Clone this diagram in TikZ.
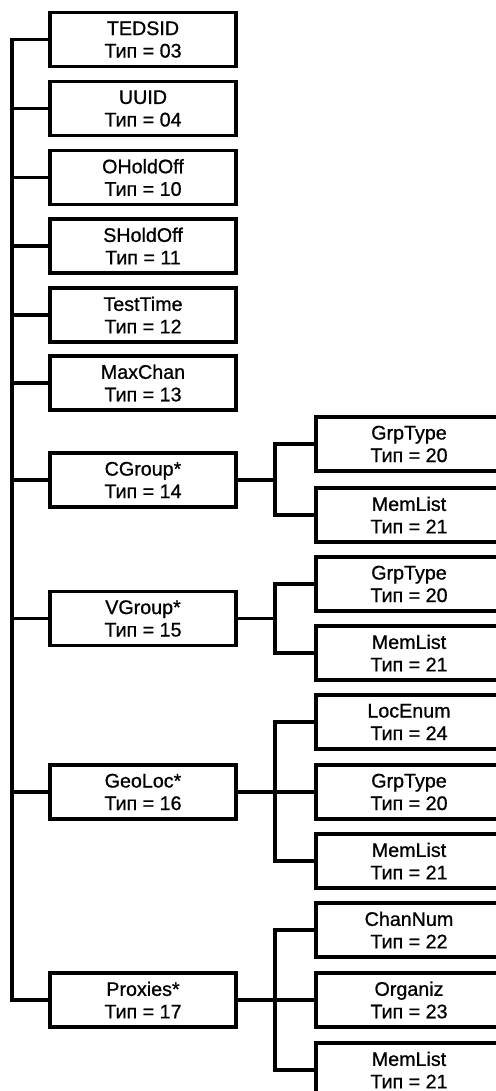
\documentclass[tikz,border=0pt]{standalone}
\usepackage{fontspec}
\setmainfont{Liberation Sans}[BoldFont=Liberation Sans, BoldFeatures={FakeBold=0.8}]
\newcommand{\typebox}[5]{%
  \node[draw=black, line width=2.2pt, fill=white,
        minimum width=4.65cm, minimum height=1.35cm, align=center,
        font=\fontsize{14}{16}\selectfont\bfseries] (#1) at (#2,#3) {#4\\Тип = #5};}

\begin{document}
\begin{tikzpicture}[x=0.025cm, y=-0.025cm, line width=2.2pt]
  \useasboundingbox (0,0) rectangle (495,1091);
  % main column
  \typebox{tedsid}{143}{39.5}{TEDSID}{03}
  \typebox{uuid}{143}{108.5}{UUID}{04}
  \typebox{oholdoff}{143}{177.5}{OHoldOff}{10}
  \typebox{sholdoff}{143}{246}{SHoldOff}{11}
  \typebox{testtime}{143}{315}{TestTime}{12}
  \typebox{maxchan}{143}{383}{MaxChan}{13}
  \typebox{cgroup}{143}{480}{CGroup*}{14}
  \typebox{vgroup}{143}{618.5}{VGroup*}{15}
  \typebox{geoloc}{143}{792}{GeoLoc*}{16}
  \typebox{proxies}{143}{1000}{Proxies*}{17}
  % sub items
  \typebox{cgtype}{409}{444}{GrpType}{20}
  \typebox{cgmem}{409}{515}{MemList}{21}
  \typebox{vgtype}{409}{584}{GrpType}{20}
  \typebox{vgmem}{409}{653}{MemList}{21}
  \typebox{glenum}{409}{722}{LocEnum}{24}
  \typebox{gltype}{409}{792}{GrpType}{20}
  \typebox{glmem}{409}{861}{MemList}{21}
  \typebox{pxchan}{409}{930}{ChanNum}{22}
  \typebox{pxorg}{409}{1000}{Organiz}{23}
  \typebox{pxmem}{409}{1070}{MemList}{21}

  \coordinate (trunk) at (12,0);
  \coordinate (fork) at (275,0);
  \draw (tedsid.west) -| (trunk |- proxies.west) -- (proxies.west);
  \foreach \n in {uuid, oholdoff, sholdoff, testtime, maxchan, cgroup, vgroup, geoloc}
    \draw (\n.west) -- (\n.west -| trunk);

  \draw (cgroup.east) -- (cgroup.east -| fork);
  \draw (cgtype.west) -| (fork |- cgmem.west) -- (cgmem.west);
  \draw (vgroup.east) -- (vgroup.east -| fork);
  \draw (vgtype.west) -| (fork |- vgmem.west) -- (vgmem.west);
  \draw (geoloc.east) -- (gltype.west);
  \draw (glenum.west) -| (fork |- glmem.west) -- (glmem.west);
  \draw (proxies.east) -- (pxorg.west);
  \draw (pxchan.west) -| (fork |- pxmem.west) -- (pxmem.west);
\end{tikzpicture}
\end{document}
